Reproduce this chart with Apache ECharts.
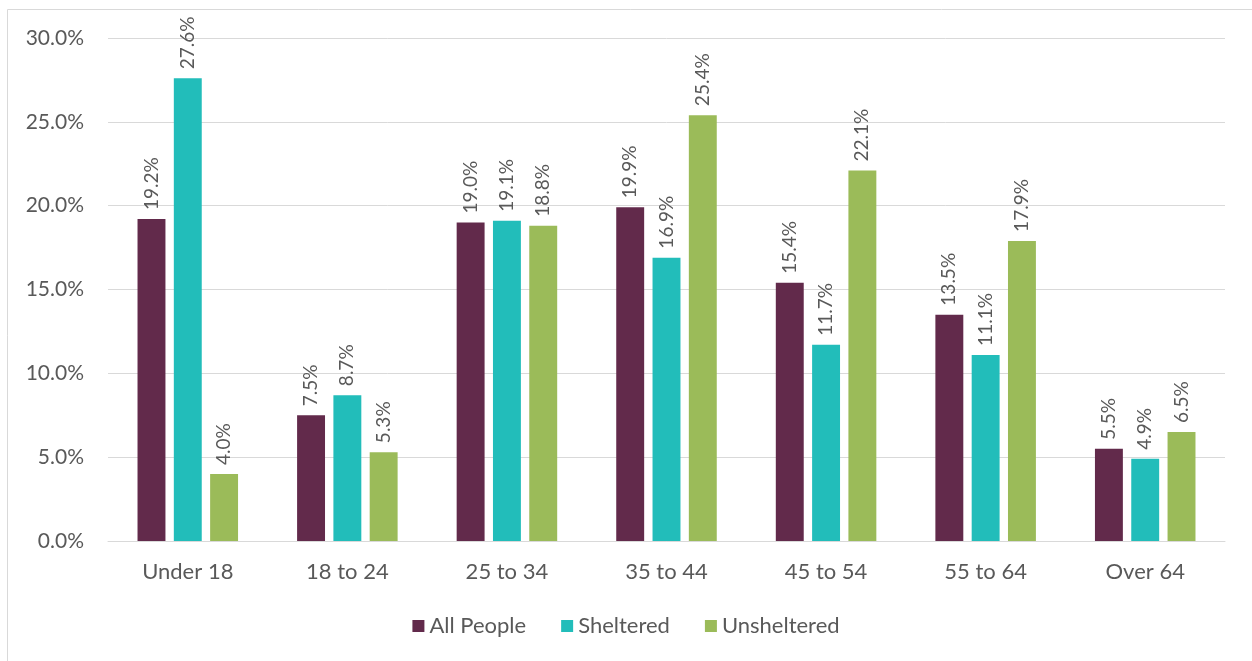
<!DOCTYPE html>
<html>
<head>
<meta charset="utf-8">
<script src="https://cdn.jsdelivr.net/npm/echarts@6/dist/echarts.min.js"></script>
<style>html,body{margin:0;padding:0;background:#fff}#c{width:1252px;height:661px}</style>
</head>
<body>
<div id="c"></div>
<script>
const categories = ['Under 18', '18 to 24', '25 to 34', '35 to 44', '45 to 54', '55 to 64', 'Over 64'];
const allPeople = [19.2, 7.5, 19.0, 19.9, 15.4, 13.5, 5.5];
const sheltered = [27.6, 8.7, 19.1, 16.9, 11.7, 11.1, 4.9];
const unsheltered = [4.0, 5.3, 18.8, 25.4, 22.1, 17.9, 6.5];
const seriesNames = ['All People', 'Sheltered', 'Unsheltered'];
const colors = ['#622A4B', '#22BDBA', '#9BBB59'];

const FONT = 'Lato, "Open Sans", sans-serif';
const chart = echarts.init(document.getElementById('c'), null, {renderer: 'canvas'});
const lbl = {
  show: true, position: 'top', rotate: 90, align: 'left', verticalAlign: 'middle',
  distance: 9, color: '#595959', fontSize: 19, fontFamily: FONT,
  formatter: p => p.value.toFixed(1) + '%'
};
function mk(name, data, color) {
  return {
    name, type: 'bar', data, barGap: '30%', barCategoryGap: '37%',
    itemStyle: {color}, label: lbl
  };
}
chart.setOption({
  animation: false,
  graphic: [{type: 'rect', shape: {x: 7.5, y: 9.5, width: 1260, height: 700},
    style: {fill: 'none', stroke: '#D9D9D9', lineWidth: 1}, z: -1}],
  grid: {left: 108, right: 27, top: 38, bottom: 120},
  legend: {
    data: seriesNames, top: 610, left: 'center', itemWidth: 12, itemHeight: 12,
    itemGap: 35, icon: 'rect',
    textStyle: {color: '#595959', fontSize: 22, fontFamily: FONT}
  },
  xAxis: {
    type: 'category', data: categories,
    axisLine: {lineStyle: {color: '#D9D9D9', width: 1}},
    axisTick: {show: false},
    axisLabel: {color: '#595959', fontSize: 22, fontFamily: FONT, margin: 20}
  },
  yAxis: {
    type: 'value', min: 0, max: 30, interval: 5,
    axisLine: {show: false}, axisTick: {show: false},
    splitLine: {lineStyle: {color: '#D9D9D9', width: 1}},
    axisLabel: {color: '#595959', fontSize: 21, fontFamily: FONT, margin: 24,
      formatter: v => v.toFixed(1) + '%'}
  },
  series: [
    mk(seriesNames[0], allPeople, colors[0]),
    mk(seriesNames[1], sheltered, colors[1]),
    mk(seriesNames[2], unsheltered, colors[2])
  ]
});
</script>
</body>
</html>
